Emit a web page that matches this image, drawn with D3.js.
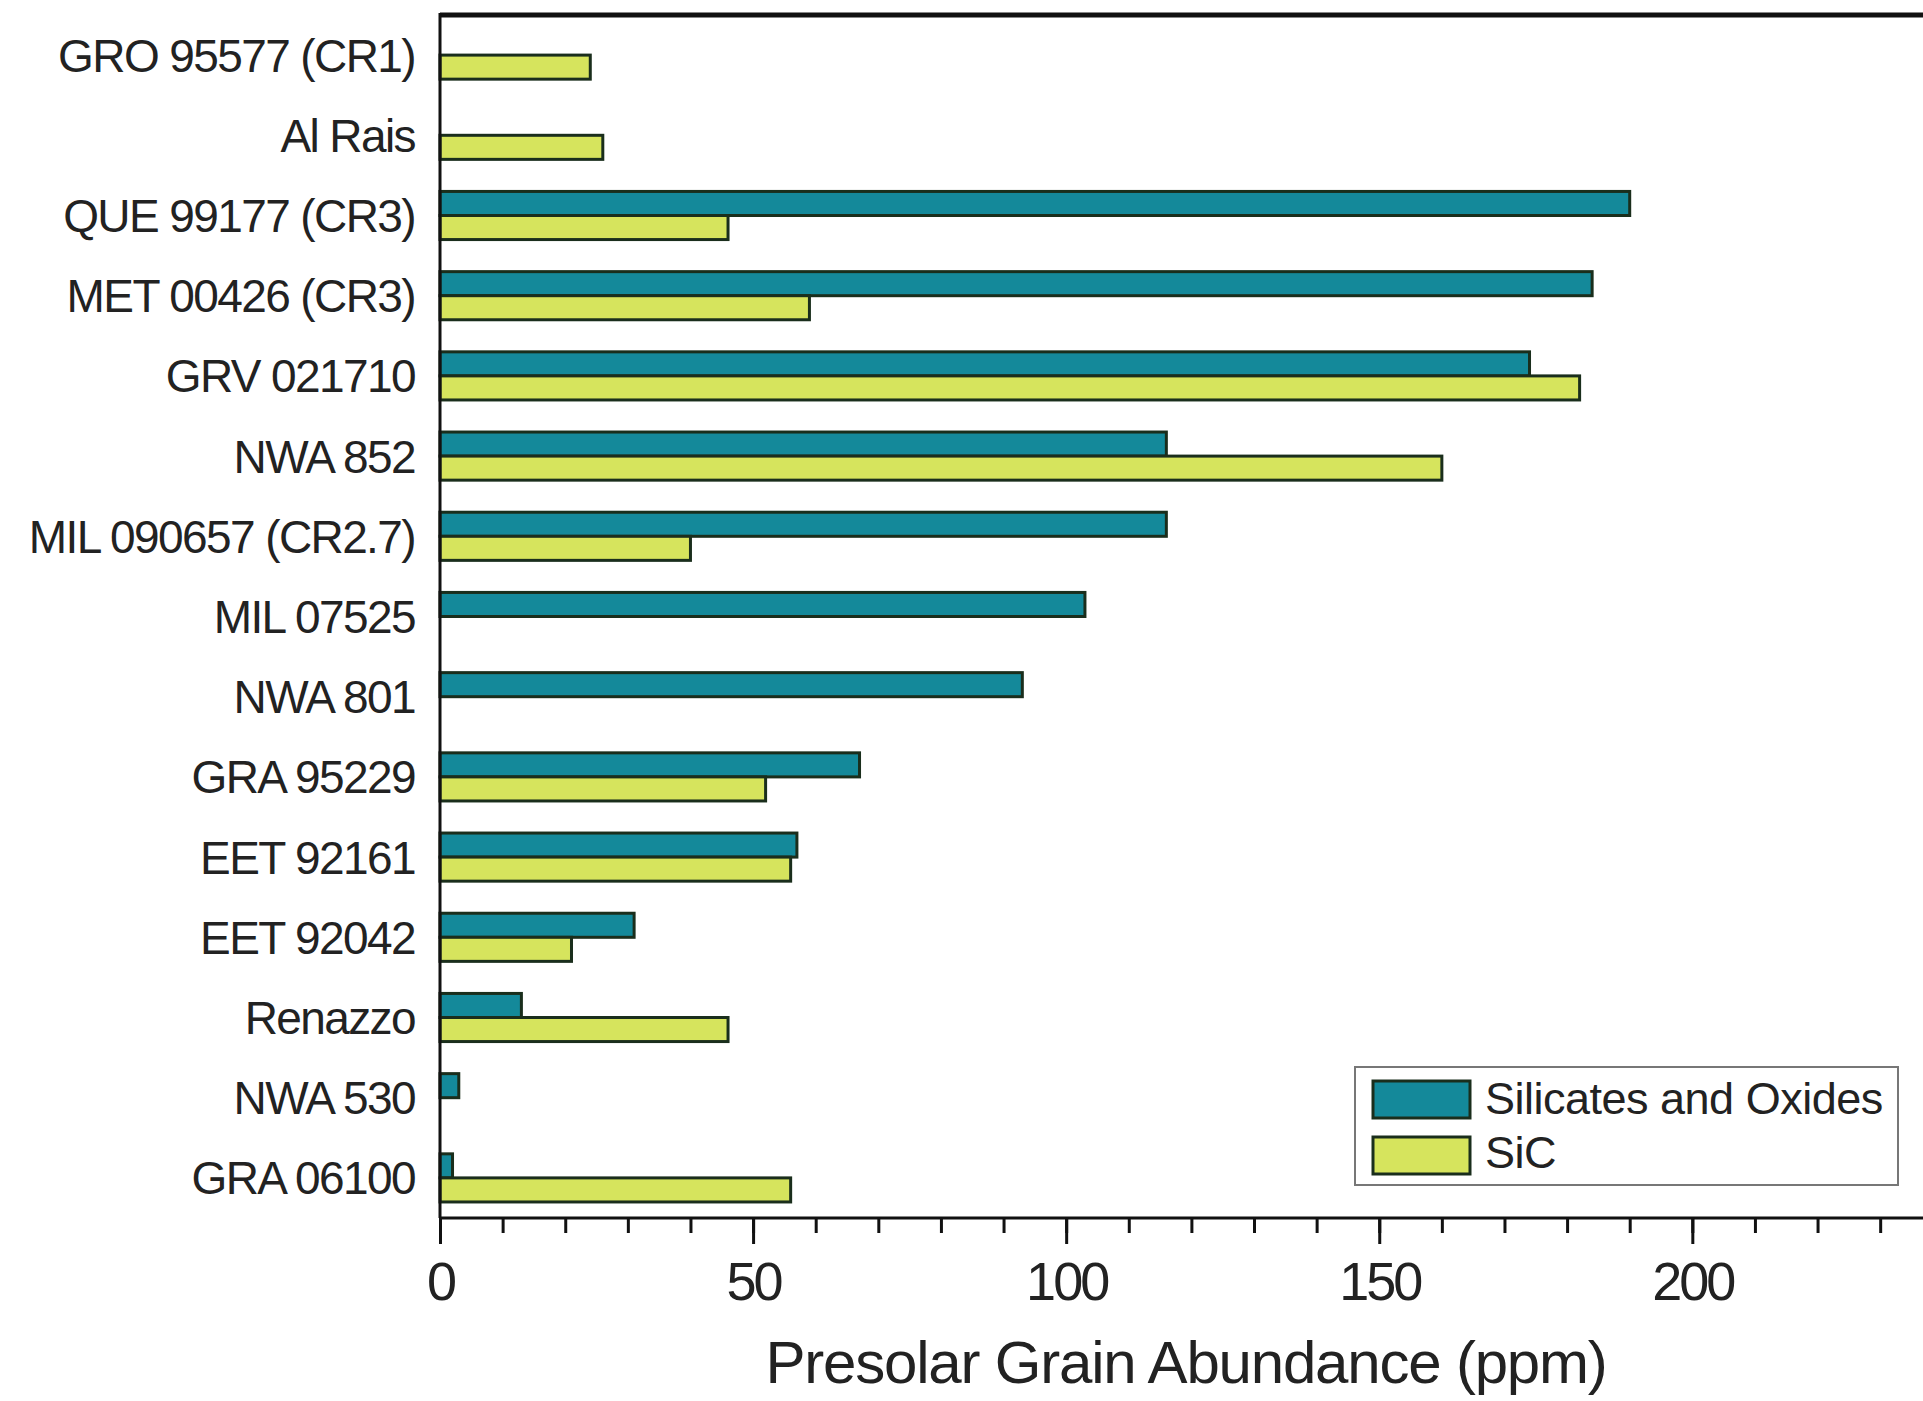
<!DOCTYPE html>
<html>
<head>
<meta charset="utf-8">
<script src="https://cdn.jsdelivr.net/npm/d3@7"></script>
<style>
  html, body { margin: 0; padding: 0; background: #fff; }
  svg { display: block; font-family: "Liberation Sans", Arial, sans-serif; }
</style>
</head>
<body>
<svg id="chart" width="1923" height="1401"></svg>
<script>
const categories = ["GRO 95577 (CR1)", "Al Rais", "QUE 99177 (CR3)", "MET 00426 (CR3)", "GRV 021710",
  "NWA 852", "MIL 090657 (CR2.7)", "MIL 07525", "NWA 801", "GRA 95229", "EET 92161", "EET 92042",
  "Renazzo", "NWA 530", "GRA 06100"];
const silicatesOxides = [null, null, 190, 184, 174, 116, 116, 103, 93, 67, 57, 31, 13, 3, 2];
const sic = [24, 26, 46, 59, 182, 160, 40, null, null, 52, 56, 21, 46, null, 56];
const seriesNames = ["Silicates and Oxides", "SiC"];
const majorTicks = [0, 50, 100, 150, 200];
const minorTicks = d3.range(0, 231, 10);
const xTitle = "Presolar Grain Abundance (ppm)";

(function () {
const colors = { "Silicates and Oxides": "#14899a", "SiC": "#d6e45d" };
const barStroke = "#1a2e1c";
const textColor = "#222";

const svg = d3.select("#chart");
const pLeft = 440, pRight = 1924, pTop = 15, pBottom = 1218;

const x = d3.scaleLinear().domain([0, 237]).range([pLeft, pRight]);
const y = d3.scaleBand().domain(categories).range([pTop, pBottom]).paddingInner(0.4).paddingOuter(0.2);
const ySub = d3.scaleBand().domain(seriesNames).range([0, y.bandwidth()]);

const series = [
  { name: "Silicates and Oxides", values: silicatesOxides },
  { name: "SiC", values: sic }
];

series.forEach(s => {
  svg.append("g").selectAll("rect")
    .data(categories.map((c, i) => ({ c, v: s.values[i] })).filter(d => d.v != null))
    .join("rect")
    .attr("x", x(0))
    .attr("y", d => y(d.c) + ySub(s.name))
    .attr("width", d => x(d.v) - x(0))
    .attr("height", ySub.bandwidth())
    .attr("fill", colors[s.name])
    .attr("stroke", barStroke)
    .attr("stroke-width", 3);
});

svg.append("line").attr("x1", pLeft).attr("x2", 1923).attr("y1", pTop).attr("y2", pTop)
  .attr("stroke", "#111").attr("stroke-width", 5);

svg.append("line").attr("x1", pLeft).attr("x2", pLeft).attr("y1", pTop - 2).attr("y2", pBottom)
  .attr("stroke", "#111").attr("stroke-width", 3);

svg.append("g").selectAll("text").data(categories).join("text")
  .attr("x", 415)
  .attr("y", d => y(d) + y.bandwidth() / 2)
  .attr("dy", "0.36em")
  .attr("text-anchor", "end")
  .attr("font-size", 46)
  .attr("letter-spacing", -1.6)
  .attr("fill", textColor)
  .text(d => d);

const minorAxis = d3.axisBottom(x).tickValues(minorTicks).tickSize(15).tickFormat("");
const gMinor = svg.append("g").attr("transform", `translate(0,${pBottom})`).call(minorAxis);
gMinor.select(".domain").attr("stroke", "#111").attr("stroke-width", 3)
  .attr("d", `M${pLeft},0H1923`);
gMinor.selectAll(".tick line").attr("stroke", "#111").attr("stroke-width", 3);

const majorAxis = d3.axisBottom(x).tickValues(majorTicks).tickSize(26).tickFormat(d3.format("d"));
const gMajor = svg.append("g").attr("transform", `translate(0,${pBottom})`).call(majorAxis);
gMajor.select(".domain").remove();
gMajor.selectAll(".tick line").attr("stroke", "#111").attr("stroke-width", 3);
gMajor.selectAll(".tick text")
  .attr("y", 82).attr("dy", 0)
  .attr("font-size", 54)
  .attr("letter-spacing", -3)
  .attr("font-family", "Liberation Sans, Arial, sans-serif")
  .attr("fill", textColor);

svg.append("text")
  .attr("x", 1186).attr("y", 1383)
  .attr("text-anchor", "middle")
  .attr("font-size", 60)
  .attr("letter-spacing", -1.2)
  .attr("fill", textColor)
  .text(xTitle);

const lg = svg.append("g");
lg.append("rect").attr("x", 1355).attr("y", 1067).attr("width", 543).attr("height", 118)
  .attr("fill", "#fff").attr("stroke", "#777").attr("stroke-width", 2);
const legendRows = [
  { name: "Silicates and Oxides", sy: 1081, ty: 1114 },
  { name: "SiC", sy: 1137, ty: 1168 }
];
legendRows.forEach(r => {
  lg.append("rect").attr("x", 1373).attr("y", r.sy).attr("width", 97).attr("height", 37)
    .attr("fill", colors[r.name]).attr("stroke", barStroke).attr("stroke-width", 3);
  lg.append("text").attr("x", 1485).attr("y", r.ty)
    .attr("font-size", 45).attr("letter-spacing", -0.5).attr("fill", textColor)
    .text(r.name);
});
})();
</script>
</body>
</html>
